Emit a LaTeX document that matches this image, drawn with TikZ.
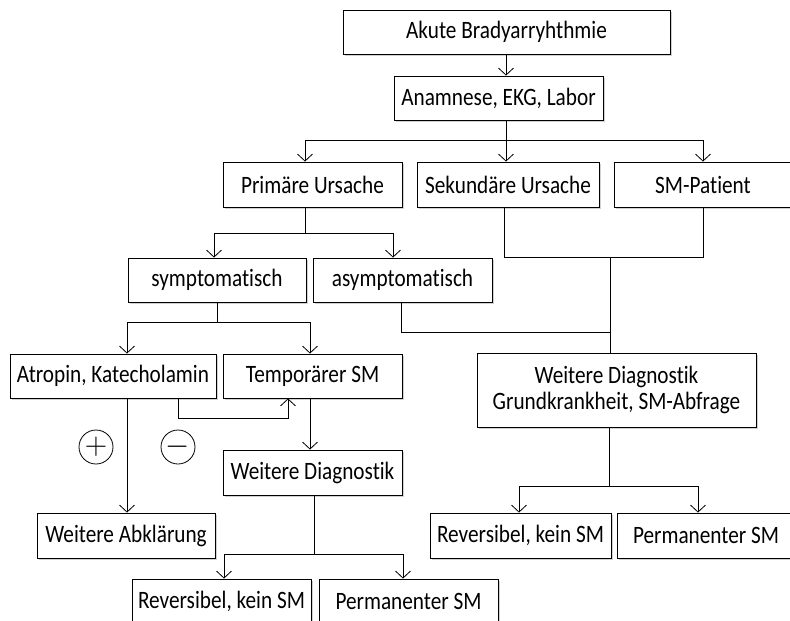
\documentclass[tikz,border=0pt]{standalone}
\usepackage{fontspec}
\setmainfont{Carlito}[FakeStretch=0.85, Ligatures=NoCommon]
\usetikzlibrary{arrows.meta,shadows}
\begin{document}
\begin{tikzpicture}[x=1pt,y=-1pt,
  box/.style={draw, fill=white, line width=0.8pt, inner sep=0pt, minimum height=44pt,
    font=\fontsize{25}{26}\selectfont, align=center,
    drop shadow={shadow xshift=1.5pt, shadow yshift=-1.5pt, opacity=0.18, fill=black}},
  arr/.style={-{Straight Barb[length=7pt,width=15pt]}, line width=0.8pt},
  ln/.style={line width=0.8pt},
  sign/.style={circle, draw, line width=0.8pt, minimum size=34pt, inner sep=0pt, font=\fontsize{24}{24}\selectfont}]
\useasboundingbox (0,0) rectangle (790,621);
\clip (0,0) rectangle (790,621);

\node[box, minimum width=327pt] (akute) at (506.5,32) {Akute Bradyarryhthmie};
\node[box, minimum width=209pt] (anam) at (498.5,98) {Anamnese, EKG, Labor};
\node[box, minimum width=179pt, minimum height=45pt] (prim) at (312.5,184.5) {Primäre Ursache};
\node[box, minimum width=182pt, minimum height=45pt] (sek) at (508,184.5) {Sekundäre Ursache};
\node[box, minimum width=178pt, minimum height=45pt] (smp) at (703,184.5) {SM-Patient};
\node[box, minimum width=178pt] (sym) at (217,280) {symptomatisch};
\node[box, minimum width=179pt] (asym) at (402.5,280) {asymptomatisch};
\node[box, minimum width=206pt] (atro) at (113,376) {Atropin, Katecholamin};
\node[box, minimum width=179pt] (temp) at (312.5,376) {Temporärer SM};
\node[box, minimum width=279pt, minimum height=74pt] (wd2) at (616.5,390) {Weitere Diagnostik\\Grundkrankheit, SM-Abfrage};
\node[box, minimum width=178pt, minimum height=45pt] (abkl) at (126,535.5) {Weitere Abklärung};
\node[box, minimum width=179pt, minimum height=45pt] (wd1) at (312.5,472.5) {Weitere Diagnostik};
\node[box, minimum width=181pt, minimum height=45pt] (rev2) at (520.5,535.5) {Reversibel, kein SM};
\node[box, minimum width=178pt, minimum height=45pt] (perm2) at (706,535.5) {Permanenter SM};
\node[box, minimum width=179pt, minimum height=45pt] (rev1) at (221.5,601.5) {Reversibel, kein SM};
\node[box, minimum width=179pt, minimum height=45pt] (perm1) at (408.5,601.5) {Permanenter SM};

\node[sign] (plus) at (96,447) {\scalebox{1.25}{$+$}};
\node[sign] (minus) at (178,447) {\scalebox{1.25}{$-$}};

% connectors
\draw[arr] (akute.south -| 506,0) -- (anam.north -| 506,0);
\draw[ln] (anam.south -| 506,0) -- (506,140);
\draw[arr] (506,140) -- (sek.north -| 506,0);
\draw[arr] (506,140) -| (prim.north -| 305,0);
\draw[arr] (506,140) -| (smp.north -| 703,0);

\draw[ln] (prim.south -| 305,0) -- (305,233);
\draw[arr] (305,233) -| (sym.north -| 214,0);
\draw[arr] (305,233) -| (asym.north -| 393,0);

\draw[ln] (sek.south -| 504,0) |- (610,257);
\draw[ln] (smp.south -| 703,0) |- (610,257);
\draw[ln] (610,257) -- (wd2.north -| 610,0);
\draw[ln] (asym.south -| 401,0) |- (610,332);

\draw[ln] (sym.south -| 217,0) -- (217,322);
\draw[arr] (217,322) -| (atro.north -| 127,0);
\draw[arr] (217,322) -| (temp.north -| 310,0);

\draw[arr] (atro.south -| 178,0) |- (288,418) -- (temp.south -| 288,0);
\draw[arr] (atro.south -| 127,0) -- (abkl.north -| 127,0);
\draw[arr] (temp.south -| 310,0) -- (wd1.north -| 310,0);

\draw[ln] (wd1.south -| 314,0) -- (314,554);
\draw[arr] (314,554) -| (rev1.north -| 224,0);
\draw[arr] (314,554) -| (perm1.north -| 403,0);

\draw[ln] (wd2.south -| 609,0) -- (609,486);
\draw[arr] (609,486) -| (rev2.north -| 519,0);
\draw[arr] (609,486) -| (perm2.north -| 698,0);
\end{tikzpicture}
\end{document}
